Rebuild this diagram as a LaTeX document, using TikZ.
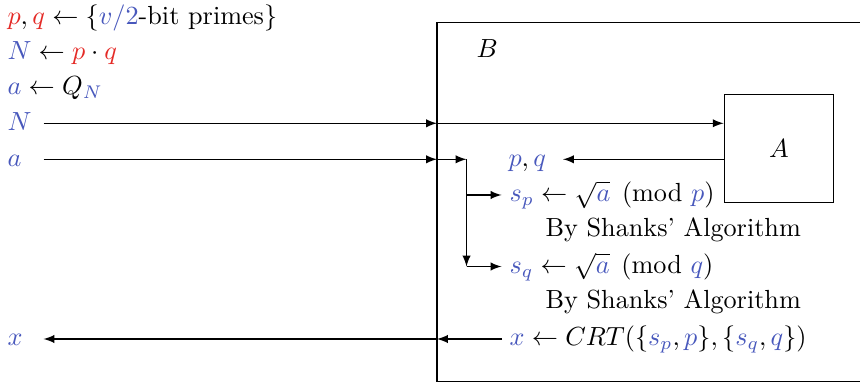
\documentclass[tikz,border=0pt]{standalone}
\usepackage{amsmath}
\usetikzlibrary{arrows}
\definecolor{cred}{RGB}{228,42,38}
\definecolor{cblue}{RGB}{72,88,188}
\newcommand{\R}[1]{\textcolor{cred}{#1}}
\newcommand{\Bl}[1]{\textcolor{cblue}{#1}}
\begin{document}
\begin{tikzpicture}[x=0.3817pt,y=-0.3817pt,
  txt/.style={inner sep=0pt,anchor=base west},
  arr/.style={-latex,line width=0.45pt},
  frame/.style={draw,line width=0.45pt}]
\useasboundingbox (0,0) rectangle (860,382);
\clip (0,0) rectangle (860,382);
% boxes
\draw[frame] (437,22.7) rectangle (900,381.8);
\node[frame,minimum width=109*0.3817pt,minimum height=108.5*0.3817pt,inner sep=0pt] (A) at (778.7,148.5) {};
\node[inner sep=0pt,anchor=base] (Alab) at (779,157.5) {$A$};
\node[txt] (Blab) at (476,57.5) {$B$};
% left texts
\node[txt] (l1) at (7,24.5) {$\R{p},\R{q}\leftarrow\{\Bl{v/2}\text{-bit primes}\}$};
\node[txt] (l2) at (7,60) {$\Bl{N}\leftarrow\R{p}\cdot\R{q}$};
\node[txt] (l3) at (7,95) {$\Bl{a}\leftarrow Q_{\Bl{N}}$};
\node[txt] (inN) at (7,130.5) {$\Bl{N}$};
\node[txt] (ina) at (7,166.5) {$\Bl{a}$};
\node[txt] (outx) at (7,346) {$\Bl{x}$};
% inside texts
\node[txt] (pq) at (508,166.5) {$\Bl{p},\Bl{q}$};
\node[txt] (sp) at (509,202) {$\Bl{s_p}\leftarrow\sqrt{\Bl{a}}\pmod{\Bl{p}}$};
\node[txt] (sh1) at (545,237) {By Shanks' Algorithm};
\node[txt] (sq) at (509,273.5) {$\Bl{s_q}\leftarrow\sqrt{\Bl{a}}\pmod{\Bl{q}}$};
\node[txt] (sh2) at (545,308.5) {By Shanks' Algorithm};
\node[txt] (crt) at (509,345.5) {$\Bl{x}\leftarrow CRT(\{\Bl{s_p},\Bl{p}\},\{\Bl{s_q},\Bl{q}\})$};
% coordinates
\coordinate (Ns) at (43.5,123.3);
\coordinate (Nb) at (437,123.3);
\coordinate (as) at (43.5,159.3);
\coordinate (ab) at (437,159.3);
\coordinate (aj) at (466.5,159.3);
\coordinate (spj) at (466.5,195);
\coordinate (sqj) at (466.5,266.5);
\coordinate (spe) at (501.5,195);
\coordinate (sqe) at (501.5,266.5);
\coordinate (pqe) at (563,159.3);
\coordinate (xs) at (502,339);
\coordinate (xb) at (437,339);
\coordinate (xe) at (43.5,339);
% connectors
\draw[arr] (Ns) -- (Nb);
\draw[arr] (Nb) -- (A.west |- Nb);
\draw[arr] (as) -- (ab);
\draw[arr] (ab) -- (aj);
\draw[arr] (aj) -- (sqj);
\draw[arr] (spj) -- (spe);
\draw[arr] (sqj) -- (sqe);
\draw[arr] (A.west |- pqe) -- (pqe);
\draw[arr] (xs) -- (xb);
\draw[arr] (xb) -- (xe);
\end{tikzpicture}
\end{document}
